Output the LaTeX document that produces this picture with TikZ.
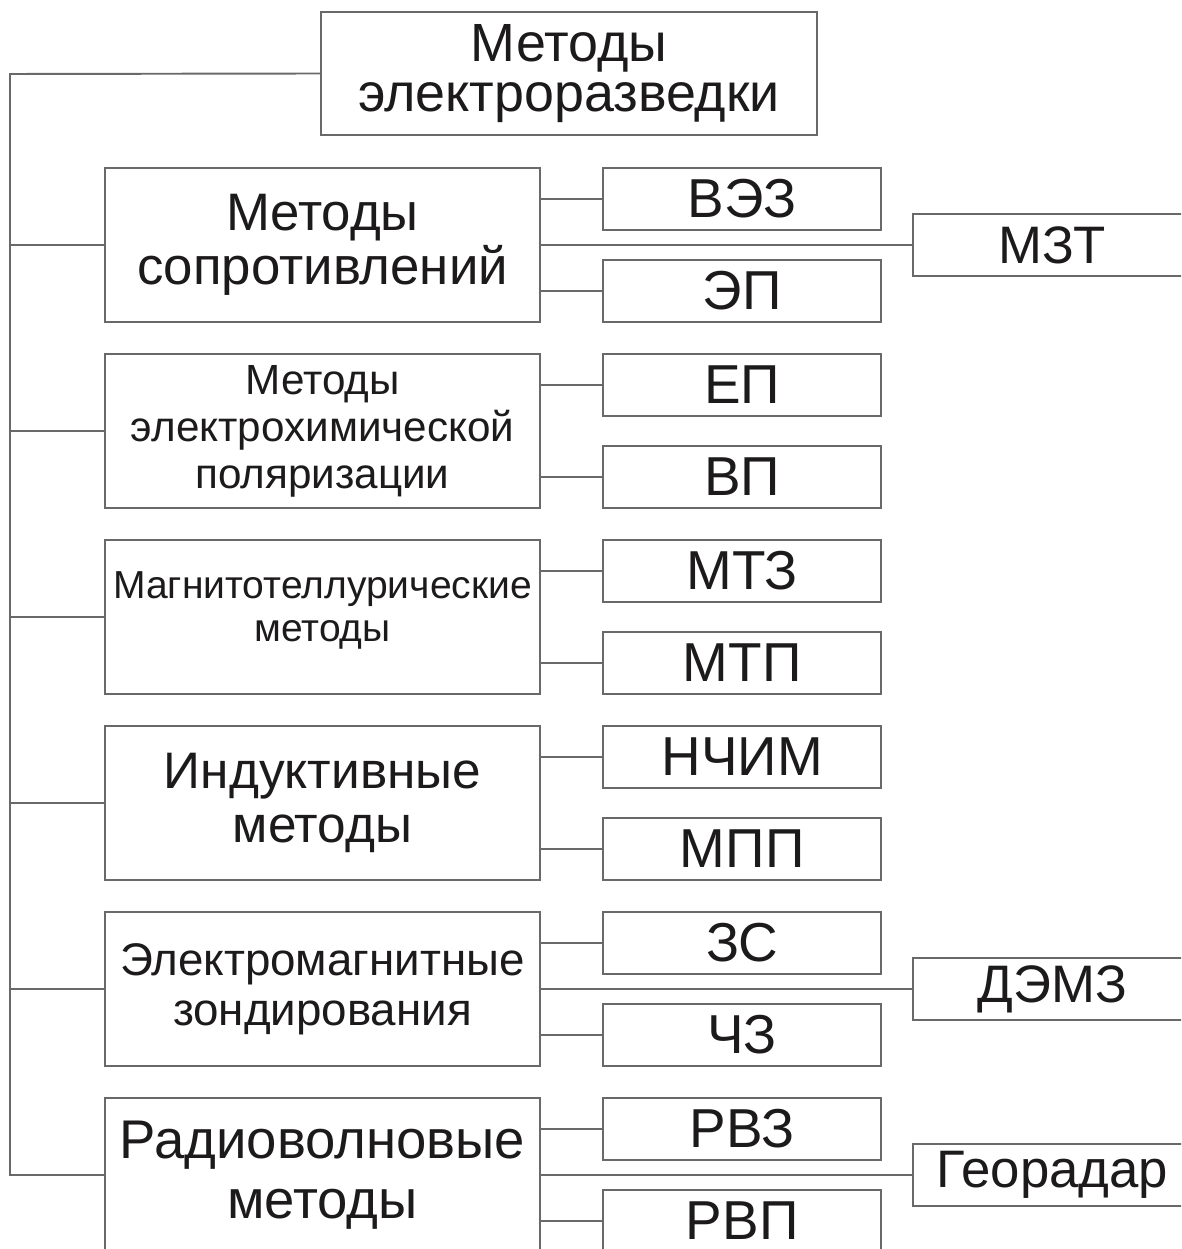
\documentclass[tikz,border=0pt]{standalone}
\usepackage{fontspec}
\setmainfont{Liberation Sans}
\definecolor{linegray}{RGB}{105,105,105}
\definecolor{inkblack}{RGB}{28,26,26}

\begin{document}
\begin{tikzpicture}[x=0.01cm, y=-0.01cm, line width=0.55pt,
  box/.style={draw=linegray, text=inkblack, align=center, inner sep=0pt},
  groupbox/.style={box, minimum width=4.35cm, minimum height=1.54cm},
  subbox/.style={box, minimum width=2.78cm, minimum height=0.62cm, font=\fontsize{15.6}{16}\selectfont},
  sidebox/.style={subbox, font=\fontsize{15}{15}\selectfont},
  link/.style={draw=linegray}]
  \def\gx{322.5}
  \path[use as bounding box, clip] (0,0) rectangle (1181,1249);

  % ===== root and trunk =====
  \node[box, minimum width=4.96cm, minimum height=1.23cm, font=\fontsize{15.3}{14.2}\selectfont] (root) at (569,73.5) {Методы\\электроразведки};
  \coordinate (trunk) at (10,74);

  % ===== method groups =====
  \node[groupbox, font=\fontsize{15}{15.4}\selectfont] (res) at (\gx,245) {Методы\\сопротивлений};
  \node[groupbox, font=\fontsize{12}{13.4}\selectfont] (pol) at (\gx,431) {Методы\\электрохимической\\поляризации};
  \node[groupbox, font=\fontsize{11.1}{12.2}\selectfont, text depth=5.8pt] (mt) at (\gx,617) {Магнитотеллурические\\методы};
  \node[groupbox, font=\fontsize{14.6}{15.6}\selectfont] (ind) at (\gx,803) {Индуктивные\\методы};
  \node[groupbox, font=\fontsize{13}{14.2}\selectfont] (ems) at (\gx,989) {Электромагнитные\\зондирования};
  \node[groupbox, font=\fontsize{15.5}{17}\selectfont] (rw) at (\gx,1175) {Радиоволновые\\методы};

  \draw[link] (root.west) -- (trunk) -- (trunk |- rw.west) -- (rw.west);

  % ===== sub-methods =====
  \foreach \g/\ta/\tb in {res/ВЭЗ/ЭП, pol/ЕП/ВП, mt/МТЗ/МТП, ind/НЧИМ/МПП, ems/ЗС/ЧЗ, rw/РВЗ/РВП}{
    \node[subbox, anchor=north west] (\g-a) at ([xshift=0.61cm]\g.north east) {\ta};
    \node[subbox, anchor=south west] (\g-b) at ([xshift=0.61cm]\g.south east) {\tb};
    \draw[link] (\g.east |- \g-a.west) -- (\g-a.west);
    \draw[link] (\g.east |- \g-b.west) -- (\g-b.west);
    \draw[link] (\g.west) -- (\g.west -| trunk);
  }

  % ===== combined methods (right column) =====
  \foreach \g/\n/\txt in {res/mzt/МЗТ, ems/demz/ДЭМЗ, rw/geo/Георадар}{
    \node[sidebox, anchor=west] (\n) at ([xshift=3.71cm]\g.east) {\txt};
    \draw[link] (\g.east) -- (\n.west);
  }
\end{tikzpicture}
\end{document}
